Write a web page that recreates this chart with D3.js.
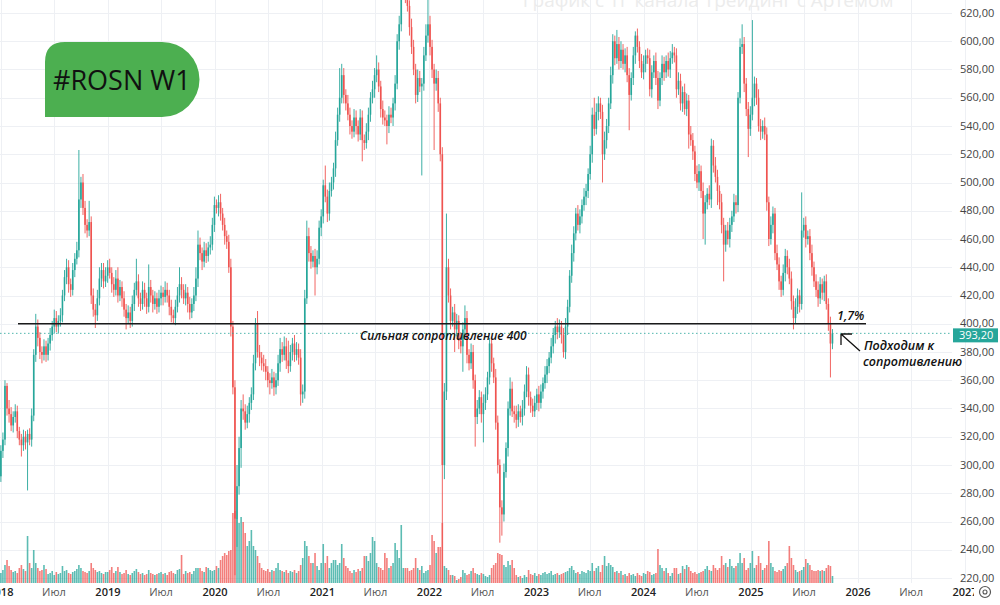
<!DOCTYPE html>
<html>
<head>
<meta charset="utf-8">
<script src="https://cdn.jsdelivr.net/npm/d3@7"></script>
<style>
    body { margin: 0; background: #fff; }
    svg { display: block; font-family: "Open Sans", sans-serif; }
</style>
</head>
<body>
<div id="chart"></div>
<script>
// weekly candles of ROSN, first week starts 2018-01-01, open = previous close
const firstWeek = "2018-01-01";
const firstOpen = 292;

const close2018 = [310,318,356,340,336,328,334,338,324,318, 314,320,316,322,318,335,378,398,390,380,
    378,384,378,386,392,398,404,398,402,406, 420,433,440,428,424,438,446,452,488,500,
    482,470,466,472,420,410,406,418,432,438, 430,434];
const up2018 = [4,5,4,2,6,5,4,5,4,3, 4,5,4,3,4,5,4,9,5,4, 4,5,4,4,5,4,6,5,4,5, 4,5,6,5,4,5,4,6,35,4,
    6,5,4,15,4,5,4,6,8,5, 5,6];
const down2018 = [4,5,4,5,6,4,5,4,5,4, 8,4,5,34,4,5,4,5,6,5, 6,4,5,4,5,4,5,4,5,4, 5,4,5,6,5,4,5,4,5,6,
    5,6,5,4,6,5,9,4,5,6, 5,4];
const vol2018 = [100,130,180,230,170,130,110,120,100,150, 180,140,120,470,200,150,330,200,150,120,
    130,180,140,90,100,120,80,110,90,100, 170,120,130,100,90,110,120,140,180,150,
    120,110,100,120,200,150,130,110,120,100, 90,110];

const close2019 = [440,436,428,424,432,420,426,418,410,404, 408,402,414,424,430,418,414,424,418,412,
    426,420,414,418,412,418,422,419,424,420, 412,406,404,412,420,428,424,418,422,414,
    408,414,420,432,456,450,444,452,448,454, 456,470];
const up2019 = [5,6,4,5,6,8,5,4,5,4, 5,4,6,5,16,5,4,6,5,4, 16,5,4,5,4,6,5,4,6,5, 4,5,4,5,6,12,5,4,6,4,
    5,4,6,8,10,5,4,6,5,4, 6,5];
const down2019 = [5,4,6,5,4,5,4,6,5,8, 4,5,4,5,4,6,5,4,6,5, 4,5,6,4,5,4,5,6,4,5, 6,5,4,5,4,5,6,4,5,6,
    5,4,5,4,6,5,6,4,5,4, 5,4];
const vol2019 = [110,130,160,100,120,160,110,90,100,130, 90,80,100,120,140,110,90,100,80,90,
    130,100,90,80,90,100,110,90,100,80, 110,120,100,90,130,140,280,90,120,100,
    110,90,120,150,150,150,120,110,160,150, 130,120];

const close2020 = [484,482,486,478,470,462,458,440,398,355, 262,285,312,340,338,330,336,344,350,372,
    400,380,376,372,370,366,360,358,362,355, 360,372,382,378,384,374,370,380,386,378,
    382,376,350,352,418,462,450,444,448,440, 446,468];
const up2020 = [6,4,5,6,4,5,4,5,6,4, 5,15,8,6,10,5,6,4,5,6, 4,9,5,4,6,5,4,5,6,4, 5,6,8,5,7,6,14,5,4,6,
    5,4,6,5,6,11,6,5,4,5, 6,5];
const down2020 = [5,4,6,5,4,6,5,4,7,5, 40,20,6,14,6,5,4,6,5,4, 5,4,6,5,4,6,5,8,4,6, 5,4,6,5,4,6,5,4,6,5,
    4,5,8,6,5,4,6,5,4,20, 5,4];
const vol2020 = [130,170,150,230,270,300,280,320,330,700, 720,650,600,660,610,500,370,420,530,370,
    330,270,200,150,130,120,140,110,130,120, 150,200,130,120,110,130,100,120,110,130,
    100,120,180,250,420,370,270,200,200,300, 170,130];

const close2021 = [476,498,490,478,494,500,510,530,548,560, 576,562,556,548,540,536,546,540,534,546,
    530,528,536,548,560,566,576,580,568,552, 546,544,540,548,546,556,570,600,612,636,
    642,632,625,610,596,580,562,574,568,570, 590,604];
const up2021 = [5,4,14,5,6,4,4,6,5,21, 8,5,4,6,5,4,6,5,4,6, 5,4,6,5,4,6,5,10,5,4, 6,5,4,6,5,4,6,5,6,8,
    12,6,5,4,6,5,4,6,5,4, 6,8];
const down2021 = [6,5,4,6,5,4,5,6,4,5, 4,6,5,4,6,5,4,6,5,4, 15,5,4,6,5,4,6,5,4,6, 5,4,13,5,4,6,5,4,6,5,
    6,5,4,6,5,4,6,5,4,63, 5,4];
const vol2021 = [200,390,200,270,150,200,230,230,180,200, 390,250,170,150,120,100,130,110,140,120,
    150,270,270,220,300,460,420,200,160,150, 130,300,250,150,170,200,400,330,250,580,
    150,150,150,120,130,150,250,150,130,170, 100,120];

const close2022 = [612,596,580,570,574,556,520,300,352,440, 420,402,408,396,402,388,384,396,404,378,
    372,380,360,334,340,348,336,344,350,362, 386,372,362,330,300,270,265,295,312,340,
    354,338,336,332,338,334,340,352,364,348, 342,338];
const up2022 = [18,6,5,4,6,5,4,5,6,38, 6,5,4,6,5,4,6,5,9,5, 4,6,5,4,6,5,4,6,5,4, 4,5,4,6,5,4,5,6,4,5,
    8,5,4,6,5,4,6,5,6,5, 4,5];
const down2022 = [5,6,6,47,5,6,5,85,10,6, 5,6,4,16,5,6,5,18,5,6, 5,4,6,21,5,4,6,20,5,4, 5,6,4,5,6,25,15,5,4,6,
    5,4,6,6,5,4,6,5,4,6, 5,4];
const vol2022 = [130,180,480,420,300,360,360,600,170,150, 130,80,80,70,30,40,60,130,100,80,
    90,120,150,100,90,80,100,90,70,60, 80,150,180,200,300,290,280,180,160,220,
    180,230,150,80,60,70,50,80,60,130, 90,80];

const close2023 = [344,350,344,352,358,364,370,376,384,392, 398,394,398,392,380,398,412,434,450,464,
    478,470,476,484,490,494,506,520,548,538, 550,556,550,520,530,540,556,576,600,588,
    598,586,594,584,590,576,562,574,590,604, 596,586];
const up2023 = [5,4,6,5,4,6,5,4,6,5, 4,6,5,4,5,6,5,4,6,5, 4,6,5,4,6,5,4,6,5,12, 6,5,4,5,6,5,4,6,5,4,
    10,5,6,4,5,6,5,4,6,3, 5,4];
const down2023 = [4,5,6,4,5,4,6,5,4,5, 6,5,4,6,4,5,6,4,5,6, 5,4,6,5,4,6,5,4,6,5, 4,6,5,20,4,6,5,4,6,5,
    4,6,5,4,6,5,25,4,5,6, 4,5];
const vol2023 = [100,70,90,80,100,110,90,100,120,80, 90,100,80,90,100,110,120,150,170,130,
    100,110,90,120,110,100,130,120,200,120, 150,170,110,180,270,170,200,180,160,110,
    120,100,120,80,90,70,100,80,90,70, 100,80];

const close2024 = [578,584,590,588,566,578,586,574,558,574, 584,578,586,580,588,592,590,566,572,556,
    564,552,558,534,530,522,506,500,508,494, 478,486,492,488,526,512,504,494,486,470,
    456,466,460,470,476,486,484,560,596,598, 570,552];
const up2024 = [5,6,4,5,6,5,4,6,5,4, 6,5,4,6,5,6,4,5,6,5, 4,6,5,4,6,5,4,6,5,4, 6,5,4,6,5,4,6,5,4,6,
    5,4,6,5,4,6,5,4,6,14, 5,4];
const down2024 = [4,5,6,4,5,6,4,5,6,4, 5,6,4,5,6,4,5,6,4,5, 6,4,5,10,4,6,5,4,6,5, 18,22,5,4,6,5,4,10,5,6,
    26,5,4,6,5,4,6,5,4,5, 6,5];
const vol2024 = [70,100,90,120,110,80,90,100,340,180, 150,120,150,100,70,100,150,150,90,100,
    170,140,180,160,120,100,110,90,100,110, 120,140,170,130,120,180,150,130,150,270,
    180,200,160,240,170,150,170,200,300,200, 250,130];

const close2025 = [538,548,560,570,560,540,536,540,534,486, 460,470,478,450,442,430,424,436,448,440,
    432,416,404,412,420,414,466,470,460,462, 450,440,430,424,418,428,422,430,414,400,
    386,393.2];
const up2025 = [5,6,55,5,4,6,5,4,6,5, 4,6,5,4,6,5,4,6,5,4, 6,5,4,6,5,4,27,5,6,4, 5,6,4,5,6,5,4,4,5,4, 5,3];
const down2025 = [20,5,4,6,5,4,6,5,4,6, 5,4,6,5,4,6,5,4,6,5, 4,6,8,4,5,6,4,5,6,4, 5,6,4,5,6,4,5,6,4,5, 24,4];
const vol2025 = [150,200,320,150,180,270,200,130,150,180, 420,200,160,120,110,130,120,140,170,200,
    370,250,180,130,110,120,130,160,240,200, 180,130,120,120,130,120,130,120,150,180, 170,70];

const priceTicks = [220,240,260,280,300,320,340,360,380,400,420,440,460,480,500,520,540,560,580,600,620];
const timeTicks = ["2018-01-01","2018-07-01","2019-01-01","2019-07-01","2020-01-01","2020-07-01",
    "2021-01-01","2021-07-01","2022-01-01","2022-07-01","2023-01-01","2023-07-01","2024-01-01",
    "2024-07-01","2025-01-01","2025-07-01","2026-01-01","2026-07-01","2027-01-01"];
const timeLabels = ["2018","Июл","2019","Июл","2020","Июл","2021","Июл","2022","Июл","2023","Июл",
    "2024","Июл","2025","Июл","2026","Июл","2027"];

const supportLevel = 400;
const lastPrice = 393.2;

// ---------- build candles
const closes = [].concat(close2018, close2019, close2020, close2021, close2022, close2023, close2024, close2025);
const ups = [].concat(up2018, up2019, up2020, up2021, up2022, up2023, up2024, up2025);
const downs = [].concat(down2018, down2019, down2020, down2021, down2022, down2023, down2024, down2025);
const vols = [].concat(vol2018, vol2019, vol2020, vol2021, vol2022, vol2023, vol2024, vol2025);

const parse = d3.timeParse("%Y-%m-%d");
const start = parse(firstWeek);

const candles = closes.map((c, i) => {
    let o = i === 0 ? firstOpen : closes[i - 1];
    return {
        date: d3.timeDay.offset(start, 7 * i),
        open: o,
        close: c,
        high: Math.max(o, c) + ups[i],
        low: Math.min(o, c) - downs[i],
        vol: vols[i]
    };
});

const width = 1000, height = 605;
const plotRight = 952, volBase = 583;
const teal = "#26a69a", red = "#ef5350";

const svg = d3.select("#chart").append("svg")
    .attr("width", width)
    .attr("height", height);

const x = d3.scaleTime()
    .domain([parse("2020-01-01"), parse("2026-01-01")])
    .range([215, 858]);
const y = d3.scaleLinear()
    .domain([220, 620])
    .range([578, 13]);
const yVol = d3.scaleLinear()
    .domain([0, 1000])
    .range([0, 100]);

svg.append("defs").append("clipPath")
    .attr("id", "plotClip")
    .append("rect")
    .attr("x", 0).attr("y", 0)
    .attr("width", plotRight).attr("height", volBase);

// grid
svg.append("g").selectAll("line")
    .data(priceTicks)
    .enter().append("line")
    .attr("x1", 0).attr("x2", plotRight)
    .attr("y1", d => Math.round(y(d)) + 0.5)
    .attr("y2", d => Math.round(y(d)) + 0.5)
    .attr("stroke", "#eef0f4");

svg.append("g").selectAll("line")
    .data(timeTicks)
    .enter().append("line")
    .attr("x1", d => Math.round(x(parse(d))) + 0.5)
    .attr("x2", d => Math.round(x(parse(d))) + 0.5)
    .attr("y1", 0).attr("y2", volBase)
    .attr("stroke", "#eef0f4");

// watermark (cut by the top edge, as in the source)
svg.append("text")
    .attr("x", 708).attr("y", 7)
    .attr("text-anchor", "middle")
    .attr("font-size", "19px")
    .attr("fill", "#ececec")
    .text("График с ТГ канала Трейдинг с Артемом");

const plot = svg.append("g").attr("clip-path", "url(#plotClip)");

// volume
plot.append("g").selectAll("rect")
    .data(candles)
    .enter().append("rect")
    .attr("x", d => x(d.date) - 0.8)
    .attr("width", 1.6)
    .attr("y", d => volBase - yVol(d.vol))
    .attr("height", d => yVol(d.vol))
    .attr("fill", d => d.close >= d.open ? teal : red)
    .attr("opacity", 0.75);

// wicks
plot.append("g").selectAll("line")
    .data(candles)
    .enter().append("line")
    .attr("x1", d => x(d.date))
    .attr("x2", d => x(d.date))
    .attr("y1", d => y(d.high))
    .attr("y2", d => y(d.low))
    .attr("stroke", d => d.close >= d.open ? teal : red)
    .attr("stroke-width", 0.9);

// bodies
plot.append("g").selectAll("rect")
    .data(candles)
    .enter().append("rect")
    .attr("x", d => x(d.date) - 0.8)
    .attr("width", 1.6)
    .attr("y", d => y(Math.max(d.open, d.close)))
    .attr("height", d => Math.max(0.8, Math.abs(y(d.open) - y(d.close))))
    .attr("fill", d => d.close >= d.open ? teal : red);

// last price dashed line
svg.append("line")
    .attr("x1", 0).attr("x2", plotRight)
    .attr("y1", y(lastPrice)).attr("y2", y(lastPrice))
    .attr("stroke", teal)
    .attr("stroke-width", 1)
    .attr("stroke-dasharray", "1.5,2.5")
    .attr("opacity", 0.8);

// resistance line
svg.append("line")
    .attr("x1", 18).attr("x2", 866)
    .attr("y1", y(supportLevel)).attr("y2", y(supportLevel))
    .attr("stroke", "#1a1a1a")
    .attr("stroke-width", 1.3);

const note = (tx, ty, str, size) => svg.append("text")
    .attr("x", tx).attr("y", ty)
    .attr("font-size", size)
    .attr("font-style", "italic")
    .attr("font-weight", 600)
    .attr("fill", "#111")
    .text(str);

note(360, y(supportLevel) + 16, "Сильная сопротивление 400", "12px");
note(837, y(supportLevel) - 4, "1,7%", "12.5px");
note(864, 350, "Подходим к", "12.5px");
note(863, 366, "сопротивлению", "12.5px");

// arrow
svg.append("path")
    .attr("d", "M860,351 L841,334 M841,334 L852,334 M841,334 L841,345")
    .attr("fill", "none")
    .attr("stroke", "#111")
    .attr("stroke-width", 1.3);

// price axis
svg.append("g").selectAll("text")
    .data(priceTicks)
    .enter().append("text")
    .attr("x", 960)
    .attr("y", d => y(d) + 3.5)
    .attr("font-size", "11px")
    .attr("fill", "#444")
    .text(d => d3.format(".2f")(d).replace(".", ","));

svg.append("rect")
    .attr("x", 953).attr("y", y(lastPrice) - 5)
    .attr("width", 45).attr("height", 14)
    .attr("fill", teal);
svg.append("text")
    .attr("x", 959).attr("y", y(lastPrice) + 6)
    .attr("font-size", "11px")
    .attr("fill", "#fff")
    .text(d3.format(".2f")(lastPrice).replace(".", ","));

// time axis
svg.append("g").selectAll("text")
    .data(timeTicks)
    .enter().append("text")
    .attr("x", d => x(parse(d)))
    .attr("y", 596)
    .attr("text-anchor", "middle")
    .attr("font-size", "11px")
    .attr("font-weight", (d, i) => timeLabels[i] === "Июл" ? 400 : 600)
    .attr("fill", (d, i) => timeLabels[i] === "Июл" ? "#555" : "#222")
    .text((d, i) => timeLabels[i]);

// settings icon
svg.append("rect")
    .attr("x", 974).attr("y", 584)
    .attr("width", 26).attr("height", 21)
    .attr("fill", "#fff");
svg.append("circle")
    .attr("cx", 985).attr("cy", 592).attr("r", 5.5)
    .attr("fill", "none").attr("stroke", "#555").attr("stroke-width", 1.2);
svg.append("circle")
    .attr("cx", 985).attr("cy", 592).attr("r", 2)
    .attr("fill", "none").attr("stroke", "#555").attr("stroke-width", 1.1);

// ticker badge
svg.append("path")
    .attr("d", "M45,117 L45,62 Q45,42 65,42 L162,42 A37.5,37.5 0 0 1 162,117 Z")
    .attr("fill", "#4caf50");
svg.append("text")
    .attr("x", 53).attr("y", 90)
    .attr("font-size", "27px")
    .attr("fill", "#111")
    .text("#ROSN W1");
</script>
</body>
</html>
